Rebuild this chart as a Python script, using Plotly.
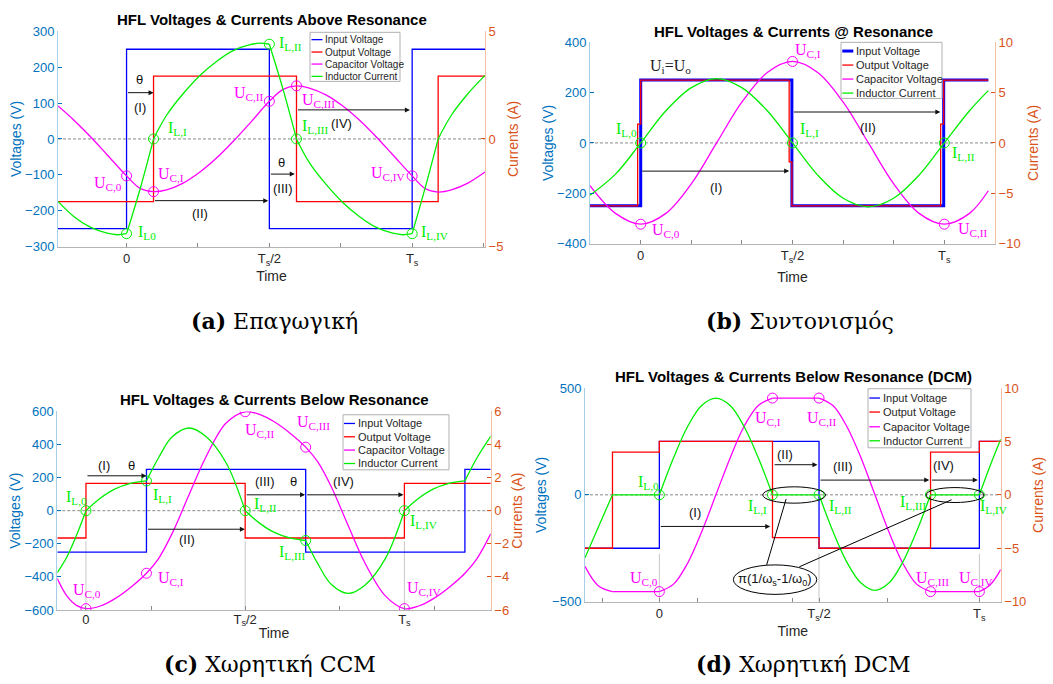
import plotly.graph_objects as go

# ===================== DATA =====================
# time is in units of Ts, voltages in V, currents in A
# ---- (a) Above resonance ----
A_T_VIN = [-0.24, 0.0, 0.5, 1.0, 1.255]
A_VIN = [-250, 250, -250, 250, 250]
A_T_VOUT = [-0.24, 0.0945, 0.595, 1.091, 1.255]
A_VOUT = [-175, 175, -175, 175, 175]
A_T_UC = [-0.24, -0.185, -0.127, -0.068, 0.0, 0.048, 0.0945, 0.14, 0.198, 0.257, 0.315, 0.373, 0.432,
          0.5, 0.548, 0.595, 0.64, 0.698, 0.757, 0.815, 0.873, 0.932, 1.0, 1.045, 1.091, 1.137, 1.195, 1.255]
A_UC = [92, 53, 7, -44, -103, -138, -147, -142, -123, -92, -53, -7, 44,
        105, 138, 148, 142, 123, 92, 53, 7, -44, -103, -138, -148, -142, -123, -92]
A_T_IL = [-0.24, -0.185, -0.127, -0.068, -0.033, 0.0, None,
          0.0, 0.048, 0.0945, None,
          0.0945, 0.14, 0.198, 0.257, 0.315, 0.373, 0.432, 0.467, 0.5, None,
          0.5, 0.548, 0.595, None,
          0.595, 0.64, 0.698, 0.757, 0.815, 0.873, 0.932, 0.967, 1.0, None,
          1.0, 1.045, 1.091, None,
          1.091, 1.137, 1.195, 1.255]
A_IL = [-2.9, -3.6, -4.1, -4.38, -4.45, -4.4, None,
        -4.4, -2.3, 0.0, None,
        0.0, 1.1, 2.1, 2.95, 3.6, 4.1, 4.38, 4.45, 4.4, None,
        4.4, 2.3, 0.0, None,
        0.0, -1.1, -2.1, -2.95, -3.6, -4.1, -4.38, -4.45, -4.4, None,
        -4.4, -2.3, 0.0, None,
        0.0, 1.1, 2.1, 2.95]
A_MK_T = [0.0, 0.0945, 0.5, 0.595, 1.0]
A_MK_IL = [-4.4, 0.0, 4.4, 0.0, -4.4]
A_MK_UC = [-103, -147, 105, 148, -103]

# ---- (b) At resonance ----
B_T_VIN = [-0.167, 0.0, 0.498, 0.998, 1.145]
B_VIN = [-250, 250, -250, 250, 250]
B_T_VOUT = [-0.167, -0.01, 0.0, 0.489, 0.498, 0.988, 0.998, 1.145]
B_VOUT = [-250, 75, 250, -75, -250, 75, 250, 250]
B_T_WAVE = [-0.167, -0.083, 0.0, 0.083, 0.167, 0.25, 0.333, 0.417, 0.5,
            0.583, 0.667, 0.75, 0.833, 0.917, 1.0, 1.083, 1.145]
B_IL = [-5.2, -3.1, 0.0, 3.2, 5.5, 6.4, 5.5, 3.2, 0.0, -3.2, -5.5, -6.35, -5.5, -3.2, 0.0, 3.2, 5.2]
B_UC = [-170, -280, -323, -280, -162, 0, 162, 280, 324, 280, 162, 0, -162, -280, -323, -280, -190]
B_MK_T = [0.0, 0.5, 1.0]
B_MK_IL = [0.0, 0.0, 0.0]
B_MK_UC = [-323, 324, -323]

# ---- (c) Below resonance CCM ----
C_T_VIN = [-0.09, 0.19, 0.69, 1.19, 1.271]
C_VIN = [-250, 250, -250, 250, 250]
C_T_VOUT = [-0.09, 0.0, 0.5, 1.0, 1.271]
C_VOUT = [-165, 165, -165, 165, 165]
C_T_UC = [-0.09, -0.06, -0.03, 0.0, 0.045, 0.09, 0.14, 0.19, 0.228, 0.27, 0.323, 0.376, 0.44, 0.5,
          0.545, 0.59, 0.64, 0.69, 0.728, 0.77, 0.823, 0.876, 0.94, 1.0, 1.045, 1.09, 1.14, 1.19, 1.228, 1.271]
C_UC = [-410, -515, -572, -592, -576, -533, -464, -378, -289, -140, 94, 322, 530, 598,
        582, 539, 470, 384, 295, 146, -88, -316, -515, -592, -576, -533, -464, -378, -289, -140]
C_T_IL = [-0.09, -0.06, -0.03, 0.0, None,
          0.0, 0.045, 0.09, 0.14, 0.19, None,
          0.19, 0.228, 0.27, 0.323, 0.376, 0.44, 0.5, None,
          0.5, 0.545, 0.59, 0.64, 0.69, None,
          0.69, 0.728, 0.77, 0.823, 0.876, 0.94, 1.0, None,
          1.0, 1.045, 1.09, 1.14, 1.19, None,
          1.19, 1.228, 1.271]
C_IL = [-3.75, -2.8, -1.5, 0.0, None,
        0.0, 0.75, 1.3, 1.65, 1.8, None,
        1.8, 3.2, 4.45, 5.0, 4.5, 2.9, 0.0, None,
        0.0, -0.75, -1.3, -1.65, -1.8, None,
        -1.8, -3.2, -4.45, -5.0, -4.5, -2.9, 0.0, None,
        0.0, 0.75, 1.3, 1.65, 1.8, None,
        1.8, 3.2, 4.5]
C_MK_T = [0.0, 0.19, 0.5, 0.69, 1.0]
C_MK_IL = [0.0, 1.8, 0.0, -1.8, 0.0]
C_MK_UC = [-592, -378, 598, 384, -592]

# ---- (d) Below resonance DCM ----
D_T_VIN = [-0.23, 0.0, 0.494, 0.99, 1.056]
D_VIN = [-250, 250, -250, 250, 250]
D_T_VOUT = [-0.23, -0.145, 0.0, 0.35, 0.494, 0.839, 0.99, 1.056]
D_VOUT = [-250, 200, 250, -200, -250, 200, 250, 250]
D_T_UC = [-0.23, -0.19, -0.145, None,
          -0.145, 0.0, None,
          0.0, 0.044, 0.0875, 0.131, 0.175, 0.219, 0.262, 0.306, 0.35, None,
          0.35, 0.494, None,
          0.494, 0.537, 0.58, 0.624, 0.667, 0.71, 0.753, 0.796, 0.839, None,
          0.839, 0.99, None,
          0.99, 1.023, 1.056]
D_UC = [-335, -424, -453, None,
        -453, -453, None,
        -453, -418, -320, -173, 0, 173, 320, 418, 453, None,
        453, 453, None,
        453, 418, 320, 173, 0, -173, -320, -418, -453, None,
        -453, -453, None,
        -453, -422, -350]
D_T_IL = [-0.23, -0.19, -0.145, None,
          -0.145, 0.0, None,
          0.0, 0.044, 0.0875, 0.131, 0.175, 0.219, 0.262, 0.306, 0.35, None,
          0.35, 0.494, None,
          0.494, 0.537, 0.58, 0.624, 0.667, 0.71, 0.753, 0.796, 0.839, None,
          0.839, 0.99, None,
          0.99, 1.023, 1.056]
D_IL = [-5.9, -3.1, 0.0, None,
        0.0, 0.0, None,
        0.0, 3.47, 6.4, 8.37, 9.06, 8.37, 6.4, 3.47, 0.0, None,
        0.0, 0.0, None,
        0.0, -3.42, -6.3, -8.26, -8.94, -8.26, -6.3, -3.42, 0.0, None,
        0.0, 0.0, None,
        0.0, 2.7, 5.2]
D_MK_T = [0.0, 0.35, 0.494, 0.839, 0.99]
D_MK_IL = [0.0, 0.0, 0.0, 0.0, 0.0]
D_MK_UC = [-453, 453, 453, -453, -453]

SERIES_NAMES = ['Input Voltage', 'Output Voltage', 'Capacitor Voltage', 'Inductor Current']
TITLES = ['HFL Voltages & Currents Above Resonance', 'HFL Voltages & Currents @ Resonance',
          'HFL Voltages & Currents Below Resonance', 'HFL Voltages & Currents Below Resonance (DCM)']
CAPTIONS = ['<b>(a)</b> Επαγωγική', '<b>(b)</b> Συντονισμός', '<b>(c)</b> Χωρητική CCM', '<b>(d)</b> Χωρητική DCM']

# ===================== STYLE =====================
W, H = 1053, 684
SANS = 'Liberation Sans, Arial, sans-serif'
SERIF = 'Liberation Serif, Times New Roman, serif'
CAPSERIF = 'DejaVu Serif, serif'
BLUE, RED, MAG, GRN = '#0000ff', '#ff0000', '#ff00ff', '#00ee00'
LCOL, RCOL = '#0072BD', '#D95319'
LLINE, RLINE = '#a6cdea', '#f2bea6'
# vertical mapping correction (the photographed page comes out slightly squeezed vertically)
SY, OY = 0.977, 6.7


def px(x):
    return x / W


def py(y):
    return 1 - ((y - OY) / SY) / H


panels = [
    dict(key='a', xa='x', yl='y', yr='y2', dom_x=(58, 485), dom_y=(31, 246),
         xr=[-0.24, 1.255], ylr=[-300, 300], yrr=[-5, 5],
         xtv=[0, 0.25, 0.5, 0.75, 1.0, 1.25], xtt=['0', '', 'T<sub>s</sub>/2', '', 'T<sub>s</sub>', ''],
         yltv=[-300, -200, -100, 0, 100, 200, 300], yrtv=[-5, 0, 5],
         vin=(A_T_VIN, A_VIN), vout=(A_T_VOUT, A_VOUT), uc=(A_T_UC, A_UC), il=(A_T_IL, A_IL),
         mk=(A_MK_T, A_MK_IL, A_MK_UC), vin_w=1.3, xstand=4, tls=0, lstand=0, rstand=5,
         title_xy=(272, 19), caption_xy=(274, 320),
         legend=dict(box=(310, 32, 400, 81), ys=[39.3, 51.7, 63.7, 76], lx=(311.5, 322.5), tx=323, fs=10)),
    dict(key='b', xa='x2', yl='y3', yr='y4', dom_x=(590, 995), dom_y=(42, 243),
         xr=[-0.167, 1.167], ylr=[-400, 400], yrr=[-10, 10],
         xtv=[-1/6, 0, 1/6, 2/6, 0.5, 4/6, 5/6, 1.0, 7/6],
         xtt=['', '0', '', '', 'T<sub>s</sub>/2', '', '', 'T<sub>s</sub>', ''],
         yltv=[-400, -200, 0, 200, 400], yrtv=[-10, -5, 0, 5, 10],
         vin=(B_T_VIN, B_VIN), vout=(B_T_VOUT, B_VOUT), uc=(B_T_WAVE, B_UC), il=(B_T_WAVE, B_IL),
         mk=(B_MK_T, B_MK_IL, B_MK_UC), vin_w=3, xstand=8, tls=0, lstand=0, rstand=8,
         title_xy=(793, 31), caption_xy=(800, 320),
         legend=dict(box=(841, 42, 942, 98), ys=[50.7, 64.7, 78.7, 92.7], lx=(842.3, 853.3), tx=853.5, fs=11)),
    dict(key='c', xa='x3', yl='y5', yr='y6', dom_x=(57.3, 490.7), dom_y=(410.7, 609),
         xr=[-0.09, 1.271], ylr=[-600, 600], yrr=[-6, 6],
         xtv=[0, 0.206, 0.5, 0.797, 1.0, 1.094], xtt=['0', '', 'T<sub>s</sub>/2', '', 'T<sub>s</sub>', ''],
         yltv=[-600, -400, -200, 0, 200, 400, 600], yrtv=[-6, -4, -2, 0, 2, 4, 6],
         vin=(C_T_VIN, C_VIN), vout=(C_T_VOUT, C_VOUT), uc=(C_T_UC, C_UC), il=(C_T_IL, C_IL),
         mk=(C_MK_T, C_MK_IL, C_MK_UC), vin_w=1.3, xstand=0, tls=-3, lstand=0, rstand=4,
         title_xy=(274, 399), caption_xy=(270, 663),
         legend=dict(box=(343, 414, 449, 469), ys=[422.7, 436, 449.3, 462.7], lx=(344, 355), tx=356, fs=11)),
    dict(key='d', xa='x4', yl='y7', yr='y8', dom_x=(585, 1000.7), dom_y=(387.3, 600.7),
         xr=[-0.23, 1.056], ylr=[-500, 500], yrr=[-10, 10],
         xtv=[-0.175, 0, 0.119, 0.412, 0.494, 0.706, 0.99], xtt=['', '0', '', '', 'T<sub>s</sub>/2', '', 'T<sub>s</sub>'],
         yltv=[-500, 0, 500], yrtv=[-10, -5, 0, 5, 10],
         vin=(D_T_VIN, D_VIN), vout=(D_T_VOUT, D_VOUT), uc=(D_T_UC, D_UC), il=(D_T_IL, D_IL),
         mk=(D_MK_T, D_MK_IL, D_MK_UC), vin_w=1.3, xstand=3, tls=0, lstand=2, rstand=7,
         title_xy=(793, 376), caption_xy=(803, 663),
         legend=dict(box=(868, 388, 971, 447), ys=[397.3, 411.3, 426, 440], lx=(869.3, 880), tx=880.7, fs=11)),
]

# text labels: (panel, text, t, V, color)
LABELS = [
    ('a', 'I<sub>L0</sub>', 0.07, -262, GRN), ('a', 'I<sub>L,I</sub>', 0.177, 28, GRN),
    ('a', 'I<sub>L,II</sub>', 0.574, 266, GRN), ('a', 'I<sub>L,III</sub>', 0.659, 35, GRN),
    ('a', 'I<sub>L,IV</sub>', 1.079, -260, GRN),
    ('a', 'U<sub>C,0</sub>', -0.064, -123, MAG), ('a', 'U<sub>C,I</sub>', 0.154, -99, MAG),
    ('a', 'U<sub>C,II</sub>', 0.429, 126, MAG), ('a', 'U<sub>C,III</sub>', 0.671, 107, MAG),
    ('a', 'U<sub>C,IV</sub>', 0.916, -95, MAG),
    ('b', 'I<sub>L,0</sub>', -0.048, 53, GRN), ('b', 'I<sub>L,I</sub>', 0.555, 53, GRN),
    ('b', 'I<sub>L,II</sub>', 1.063, -41, GRN),
    ('b', 'U<sub>C,0</sub>', 0.082, -349, MAG), ('b', 'U<sub>C,I</sub>', 0.552, 367, MAG),
    ('b', 'U<sub>C,II</sub>', 1.093, -343, MAG), ('b', 'U<sub>i</sub>=U<sub>o</sub>', 0.097, 303, '#222222'),
    ('c', 'I<sub>L,0</sub>', -0.031, 80, GRN), ('c', 'I<sub>L,I</sub>', 0.241, 90, GRN),
    ('c', 'I<sub>L,II</sub>', 0.565, 39, GRN), ('c', 'I<sub>L,III</sub>', 0.647, -253, GRN),
    ('c', 'I<sub>L,IV</sub>', 1.06, -68, GRN),
    ('c', 'U<sub>C,0</sub>', 0.004, -481, MAG), ('c', 'U<sub>C,I</sub>', 0.266, -410, MAG),
    ('c', 'U<sub>C,II</sub>', 0.547, 487, MAG), ('c', 'U<sub>C,III</sub>', 0.714, 533, MAG),
    ('c', 'U<sub>C,IV</sub>', 1.06, -469, MAG),
    ('d', 'I<sub>L,0</sub>', -0.034, 58, GRN), ('d', 'I<sub>L,I</sub>', 0.303, -56, GRN),
    ('d', 'I<sub>L,II</sub>', 0.559, -56, GRN), ('d', 'I<sub>L,III</sub>', 0.786, -36, GRN),
    ('d', 'I<sub>L,IV</sub>', 1.033, -56, GRN),
    ('d', 'U<sub>C,0</sub>', -0.047, -391, MAG), ('d', 'U<sub>C,I</sub>', 0.337, 359, MAG),
    ('d', 'U<sub>C,II</sub>', 0.502, 359, MAG), ('d', 'U<sub>C,III</sub>', 0.845, -391, MAG),
    ('d', 'U<sub>C,IV</sub>', 0.979, -391, MAG),
]

# arrows: (panel, tail t, head t, V)
ARROWS = [
    ('a', 0.0, 0.0945, 129), ('a', 0.0945, 0.496, -172), ('a', 0.5, 0.589, -98), ('a', 0.595, 0.992, 81),
    ('b', 0.0, 0.489, -112), ('b', 0.5, 0.987, 123),
    ('c', 0.0, 0.19, 211), ('c', 0.19, 0.499, -112), ('c', 0.5, 0.688, 96), ('c', 0.69, 0.997, 96),
    ('d', 0.0, 0.343, -148), ('d', 0.352, 0.489, 141), ('d', 0.494, 0.835, 69), ('d', 0.839, 0.985, 69),
]
# arrow texts: (panel, text, t, V)
ARROW_TEXT = [
    ('a', 'θ', 0.047, 166), ('a', '(I)', 0.047, 89), ('a', '(II)', 0.257, -207),
    ('a', 'θ', 0.543, -65), ('a', '(III)', 0.548, -139), ('a', '(IV)', 0.753, 42),
    ('b', '(I)', 0.248, -176), ('b', '(II)', 0.749, 60),
    ('c', '(I)', 0.057, 271), ('c', 'θ', 0.143, 271), ('c', '(II)', 0.316, -172),
    ('c', '(III)', 0.562, 174), ('c', 'θ', 0.651, 174), ('c', '(IV)', 0.808, 174),
    ('d', '(I)', 0.110, -83), ('d', '(II)', 0.389, 191), ('d', '(III)', 0.569, 131), ('d', '(IV)', 0.878, 136),
]

# ===================== FIGURE =====================
fig = go.Figure()
layout = dict(width=W, height=H, margin=dict(l=0, r=0, t=0, b=0), paper_bgcolor='white',
              plot_bgcolor='white', showlegend=False)
shapes, annotations = [], []
P = {}

for idx, p in enumerate(panels):
    P[p['key']] = p
    xa, yl, yr = p['xa'], p['yl'], p['yr']
    xname = 'xaxis' + xa[1:]
    ylname = 'yaxis' + yl[1:]
    yrname = 'yaxis' + yr[1:]
    dx = [px(p['dom_x'][0]), px(p['dom_x'][1])]
    dy = [py(p['dom_y'][1]), py(p['dom_y'][0])]
    layout[xname] = dict(domain=dx, range=p['xr'], anchor=yl, tickvals=p['xtv'], ticktext=p['xtt'],
                         ticks='inside', ticklen=4, tickcolor='#8a8a8a', showline=True, linecolor='#b4b4b4',
                         linewidth=1, showgrid=False, zeroline=False, ticklabelstandoff=p['tls'],
                         tickfont=dict(family=SANS, size=13, color='#262626'),
                         title=dict(text='Time', font=dict(family=SANS, size=14, color='#262626'),
                                    standoff=p['xstand']))
    layout[ylname] = dict(domain=dy, range=p['ylr'], anchor=xa, side='left', tickvals=p['yltv'],
                          ticks='inside', ticklen=4, tickcolor=LCOL, showline=True, linecolor=LLINE,
                          linewidth=1, showgrid=False, zeroline=False,
                          tickfont=dict(family=SANS, size=13, color=LCOL),
                          title=dict(text='Voltages (V)', font=dict(family=SANS, size=14, color=LCOL),
                                     standoff=p['lstand']))
    layout[yrname] = dict(range=p['yrr'], anchor=xa, overlaying=yl, side='right', tickvals=p['yrtv'],
                          ticks='inside', ticklen=4, tickcolor=RCOL, showline=True, linecolor=RLINE,
                          linewidth=1, showgrid=False, zeroline=False,
                          tickfont=dict(family=SANS, size=13, color=RCOL),
                          title=dict(text='Currents (A)', font=dict(family=SANS, size=14, color=RCOL),
                                     standoff=p['rstand']))

    # zero dashed line
    shapes.append(dict(type='line', xref=xa + ' domain', x0=0, x1=1, yref=yl, y0=0, y1=0,
                       line=dict(color='#6a6a6a', width=0.8, dash='3px,2px'), layer='below'))

    t, v = p['vin']
    fig.add_trace(go.Scatter(x=t, y=v, mode='lines', name=SERIES_NAMES[0], xaxis=xa, yaxis=yl,
                             line=dict(color=BLUE, width=p['vin_w'], shape='hv')))
    t, v = p['vout']
    fig.add_trace(go.Scatter(x=t, y=v, mode='lines', name=SERIES_NAMES[1], xaxis=xa, yaxis=yl,
                             line=dict(color=RED, width=1.3, shape='hv')))
    t, v = p['uc']
    fig.add_trace(go.Scatter(x=t, y=v, mode='lines', name=SERIES_NAMES[2], xaxis=xa, yaxis=yl,
                             line=dict(color=MAG, width=1.3, shape='spline', smoothing=1.0)))
    t, v = p['il']
    fig.add_trace(go.Scatter(x=t, y=v, mode='lines', name=SERIES_NAMES[3], xaxis=xa, yaxis=yr,
                             line=dict(color=GRN, width=1.3, shape='spline', smoothing=1.0)))
    mt, mil, muc = p['mk']
    fig.add_trace(go.Scatter(x=mt, y=muc, mode='markers', name='U_C points', xaxis=xa, yaxis=yl,
                             marker=dict(symbol='circle-open', size=10, color=MAG, line=dict(width=1, color=MAG))))
    fig.add_trace(go.Scatter(x=mt, y=mil, mode='markers', name='I_L points', xaxis=xa, yaxis=yr,
                             marker=dict(symbol='circle-open', size=10, color=GRN, line=dict(width=1, color=GRN))))

    # title and caption
    annotations.append(dict(text='<b>' + TITLES[idx] + '</b>', xref='paper', yref='paper',
                            x=px(p['title_xy'][0]), y=py(p['title_xy'][1]), showarrow=False,
                            xanchor='center', yanchor='middle', font=dict(family=SANS, size=15, color='black')))
    annotations.append(dict(text=CAPTIONS[idx], xref='paper', yref='paper',
                            x=px(p['caption_xy'][0]), y=py(p['caption_xy'][1]), showarrow=False,
                            xanchor='center', yanchor='middle', font=dict(family=CAPSERIF, size=22, color='black')))

    # legend (drawn as a box with line samples)
    lg = p['legend']
    bx0, by0, bx1, by1 = lg['box']
    shapes.append(dict(type='rect', xref='paper', yref='paper', x0=px(bx0), x1=px(bx1), y0=py(by1), y1=py(by0),
                       line=dict(color='#b0b0b0', width=1), fillcolor='white', layer='above'))
    for i, (name, col) in enumerate(zip(SERIES_NAMES, [BLUE, RED, MAG, GRN])):
        yy = lg['ys'][i]
        lw = p['vin_w'] if i == 0 else 1.3
        shapes.append(dict(type='line', xref='paper', yref='paper', x0=px(lg['lx'][0]), x1=px(lg['lx'][1]),
                           y0=py(yy), y1=py(yy), line=dict(color=col, width=lw), layer='above'))
        annotations.append(dict(text=name, xref='paper', yref='paper', x=px(lg['tx']), y=py(yy),
                                xanchor='left', yanchor='middle', showarrow=False,
                                font=dict(family=SANS, size=lg['fs'], color='#262626')))

# gray vertical reference lines (c) and (d)
for key, ts, vtop in [('c', [0.0, 0.5, 1.0], -183), ('d', [0.0, 0.494, 0.99], -275)]:
    p = P[key]
    for tt in ts:
        shapes.append(dict(type='line', xref=p['xa'], yref=p['yl'], x0=tt, x1=tt, y0=p['ylr'][0], y1=vtop,
                           line=dict(color='#c8c8c8', width=1), layer='below'))

# labels
for key, txt, tt, vv, col in LABELS:
    p = P[key]
    annotations.append(dict(text=txt, xref=p['xa'], yref=p['yl'], x=tt, y=vv, showarrow=False,
                            xanchor='center', yanchor='middle', font=dict(family=SERIF, size=16, color=col)))
# arrows
for key, t0, t1, vv in ARROWS:
    p = P[key]
    annotations.append(dict(text='', xref=p['xa'], yref=p['yl'], x=t1, y=vv, axref=p['xa'], ayref=p['yl'],
                            ax=t0, ay=vv, showarrow=True, arrowhead=2, arrowsize=1, arrowwidth=1,
                            arrowcolor='#111111', standoff=0, startstandoff=0))
for key, txt, tt, vv in ARROW_TEXT:
    p = P[key]
    annotations.append(dict(text=txt, xref=p['xa'], yref=p['yl'], x=tt, y=vv, showarrow=False,
                            xanchor='center', yanchor='middle', font=dict(family=SANS, size=13, color='#111111')))

# DCM ellipses and pointer lines (d)
pd_ = P['d']
for (x0, x1, y0, y1) in [(0.32, 0.514, -39, 37.5), (0.825, 1.004, -36, 34), (0.229, 0.487, -466, -328)]:
    shapes.append(dict(type='circle', xref=pd_['xa'], yref=pd_['yl'], x0=x0, x1=x1, y0=y0, y1=y1,
                       line=dict(color='black', width=1), layer='above'))
for (x0, y0, x1, y1) in [(0.332, -328, 0.392, -20), (0.433, -337, 0.904, -23)]:
    shapes.append(dict(type='line', xref=pd_['xa'], yref=pd_['yl'], x0=x0, x1=x1, y0=y0, y1=y1,
                       line=dict(color='black', width=1), layer='above'))
annotations.append(dict(text='π(1/ω<sub>s</sub>-1/ω<sub>0</sub>)', xref=pd_['xa'], yref=pd_['yl'], x=0.358, y=-395,
                        showarrow=False, xanchor='center', yanchor='middle',
                        font=dict(family=SANS, size=13, color='#111111')))

layout['shapes'] = shapes
layout['annotations'] = annotations
fig.update_layout(**layout)

PAGE_JS = ("document.documentElement.style.margin='0';document.documentElement.style.overflow='hidden';"
           "document.body.style.margin='0';document.body.style.padding='0';document.body.style.overflow='hidden';"
           "var gd=document.getElementsByClassName('plotly-graph-div')[0];"
           "gd.style.position='absolute';gd.style.left='0px';gd.style.top='0px';")
fig.write_html('out.html', config={'displayModeBar': False}, post_script=PAGE_JS)
